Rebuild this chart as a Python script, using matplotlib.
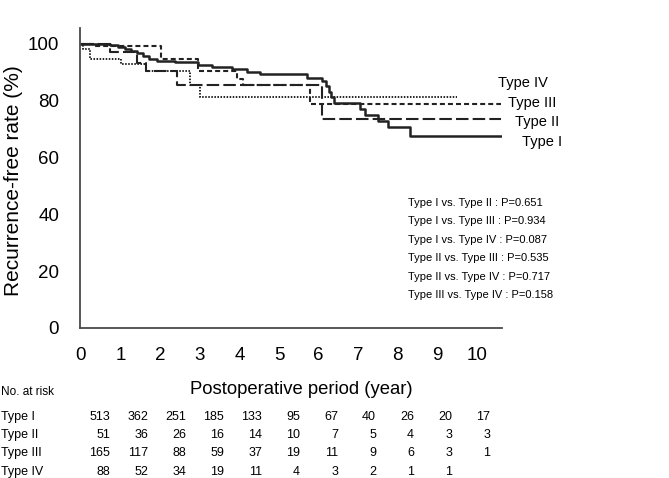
import numpy as np
import matplotlib
matplotlib.use('Agg')
import matplotlib.pyplot as plt

plt.rcParams['font.family'] = ['Liberation Sans', 'DejaVu Sans']
plt.rcParams['lines.scale_dashes'] = False

# Kaplan-Meier step curves (years, %)
t_type1 = [0, 0.73, 0.93, 1.11, 1.26, 1.41, 1.57, 1.72, 1.92, 2.37, 2.95, 3.31, 3.81,
           4.19, 4.52, 5.71, 6.09, 6.19, 6.26, 6.31, 6.39, 7.05, 7.17, 7.5, 7.75, 8.31, 10.6]
s_type1 = [100, 99.5, 98.9, 98.2, 97.5, 96.7, 95.8, 94.7, 94.0, 93.5, 92.6, 91.7, 91.0,
           90.1, 89.4, 88.1, 87.0, 85.2, 83.1, 81.3, 79.2, 77.1, 75.0, 72.9, 70.8, 67.6, 67.6]
t_type2 = [0, 0.73, 1.41, 1.64, 2.42, 6.09, 10.6]
s_type2 = [100, 97.3, 93.3, 90.5, 85.6, 73.6, 73.6]
t_type3 = [0, 0.35, 2.02, 2.95, 3.94, 4.09, 5.78, 10.6]
s_type3 = [100, 99.2, 94.7, 90.5, 87.7, 85.4, 78.9, 78.9]
t_type4 = [0, 0.05, 0.23, 1.01, 1.64, 2.75, 3.0, 9.49]
s_type4 = [100, 98.2, 94.6, 92.9, 90.5, 85.6, 81.4, 81.4]

groups = ['Type I', 'Type II', 'Type III', 'Type IV']
pvalues = ['Type I vs. Type II : P=0.651',
           'Type I vs. Type III : P=0.934',
           'Type I vs. Type IV : P=0.087',
           'Type II vs. Type III : P=0.535',
           'Type II vs. Type IV : P=0.717',
           'Type III vs. Type IV : P=0.158']

years = list(range(0, 11))
at_risk_1 = [513, 362, 251, 185, 133, 95, 67, 40, 26, 20, 17]
at_risk_2 = [51, 36, 26, 16, 14, 10, 7, 5, 4, 3, 3]
at_risk_3 = [165, 117, 88, 59, 37, 19, 11, 9, 6, 3, 1]
at_risk_4 = [88, 52, 34, 19, 11, 4, 3, 2, 1, 1]

W, H = 669, 478
fig = plt.figure(figsize=(W / 100, H / 100), dpi=100)
ax = fig.add_axes([80 / W, 1 - 328 / H, (502 - 80) / W, (328 - 28) / H])

col = '#222222'
ax.step(t_type1, s_type1, where='post', color=col, lw=1.8)
ax.step(t_type2, s_type2, where='post', color=col, lw=1.5, linestyle=(0, (9, 3)))
ax.step(t_type3, s_type3, where='post', color=col, lw=1.5, linestyle=(0, (3.6, 2.2)))
ax.step(t_type4, s_type4, where='post', color=col, lw=1.4, linestyle=(0, (1.1, 1.1)))

ax.set_xlim(-0.025, 10.63)
ax.set_ylim(0, 105.6)
ax.set_xticks(years)
ax.set_yticks([0, 20, 40, 60, 80, 100])
ax.tick_params(length=0, labelsize=13.5)
ax.tick_params(axis='x', pad=14)
ax.tick_params(axis='y', pad=15)
for side in ['top', 'right']:
    ax.spines[side].set_visible(False)
for side in ['left', 'bottom']:
    ax.spines[side].set_color('#4a4a4a')
    ax.spines[side].set_linewidth(1.3)

fig.text(14 / W, 1 - 181 / H, 'Recurrence-free rate (%)', fontsize=15,
         rotation=90, ha='center', va='center')

# curve labels
lab_x = [11.14, 10.96, 10.78, 10.53]
lab_y = [65.5, 72.5, 79.2, 86.3]
for g, lx, ly in zip(groups, lab_x, lab_y):
    ax.text(lx, ly, g, fontsize=10.5, ha='left', va='center', clip_on=False)

# p-values
for i, p in enumerate(pvalues):
    ax.text(8.26, 44.0 - i * 6.48, p, fontsize=8, ha='left', va='center')

fig.text(301 / W, 1 - 389 / H, 'Postoperative period (year)', fontsize=13.3,
         ha='center', va='center')

# number at risk table
fig.text(1 / W, 1 - 392 / H, 'No. at risk', fontsize=8.5, ha='left', va='center')
rows = [at_risk_1, at_risk_2, at_risk_3, at_risk_4]
row_y = [417, 435, 453, 472]
for g, r, yy in zip(groups, rows, row_y):
    fig.text(1 / W, 1 - yy / H, g, fontsize=9, ha='left', va='center')
    for i, n in enumerate(r):
        fig.text((110 + 38 * i) / W, 1 - yy / H, str(n), fontsize=9,
                 ha='right', va='center')

plt.savefig('out.png', dpi=100)
